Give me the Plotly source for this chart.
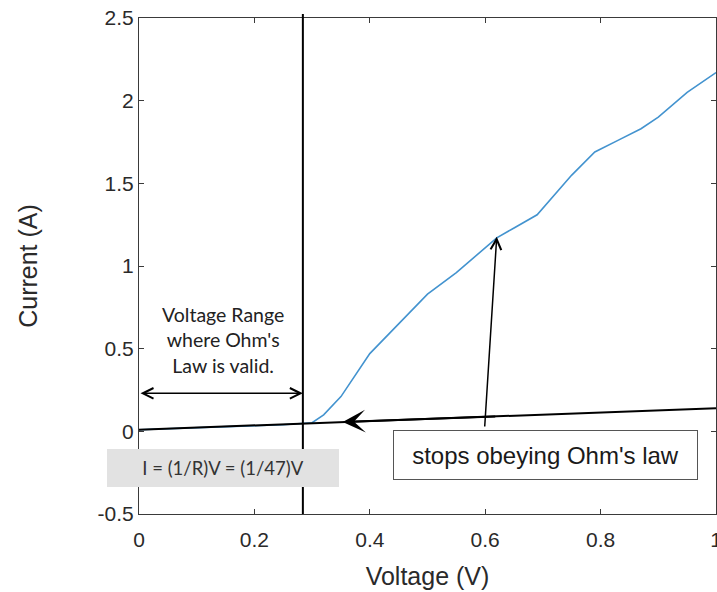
import plotly.graph_objects as go

# ---- data ----
voltage = [0.0, 0.05, 0.10, 0.15, 0.20, 0.25, 0.30, 0.32, 0.35, 0.40, 0.45, 0.50,
           0.55, 0.60, 0.62, 0.65, 0.69, 0.75, 0.79, 0.83, 0.87, 0.90, 0.95, 1.0]
current = [0.010, 0.016, 0.022, 0.028, 0.034, 0.040, 0.052, 0.10, 0.21, 0.47, 0.65, 0.83,
           0.96, 1.11, 1.17, 1.23, 1.31, 1.55, 1.69, 1.76, 1.83, 1.90, 2.05, 2.17]

x_ticks = [0, 0.2, 0.4, 0.6, 0.8, 1]
x_tick_labels = ["0", "0.2", "0.4", "0.6", "0.8", "1"]
y_ticks = [-0.5, 0, 0.5, 1, 1.5, 2, 2.5]
y_tick_labels = ["-0.5", "0", "0.5", "1", "1.5", "2", "2.5"]

# annotation geometry (data units)
ohm_line_v = [0.0, 1.0]
ohm_line_i = [0.010, 0.140]
ohm_limit_v = 0.284
range_arrow_i = 0.23
stop_arrow_tip = (0.353, 0.056)
up_arrow_tail = (0.599, 0.02)
up_arrow_tip = (0.620, 1.177)

X_RANGE = [0, 1]
Y_RANGE = [-0.5, 2.5]


def py(i):
    """data current -> paper y"""
    return (i - Y_RANGE[0]) / (Y_RANGE[1] - Y_RANGE[0])


fig = go.Figure()
fig.add_trace(go.Scatter(x=voltage, y=current, mode="lines",
                         line=dict(color="#4393cf", width=1.6),
                         showlegend=False, hoverinfo="skip"))

axis_common = dict(
    showgrid=False, zeroline=False, showline=True, linecolor="#3a3a3a", linewidth=1,
    mirror="ticks", ticks="inside", ticklen=5, tickcolor="#3a3a3a", tickwidth=1,
    tickfont=dict(family="Liberation Sans, Arial", size=21, color="#2a2a2a"),
    ticklabeloverflow="allow",
)

fig.update_xaxes(range=X_RANGE, tickvals=x_ticks, ticktext=x_tick_labels,
                 ticklabelstandoff=7,
                 title=dict(text="Voltage (V)", standoff=17,
                            font=dict(family="Liberation Sans, Arial", size=25, color="#2a2a2a")),
                 **axis_common)
fig.update_yaxes(range=Y_RANGE, tickvals=y_ticks, ticktext=y_tick_labels,
                 title=dict(text="Current (A)", standoff=52,
                            font=dict(family="Liberation Sans, Arial", size=25, color="#2a2a2a")),
                 **axis_common)

shapes = [
    dict(type="line", xref="paper", yref="paper",
         x0=ohm_line_v[0], x1=ohm_line_v[1], y0=py(ohm_line_i[0]), y1=py(ohm_line_i[1]),
         line=dict(color="black", width=2), layer="above"),
    dict(type="line", xref="paper", yref="paper",
         x0=ohm_limit_v, x1=ohm_limit_v, y0=0, y1=1.008,
         line=dict(color="black", width=2), layer="above"),
]

annotations = [
    dict(x=ohm_limit_v, y=range_arrow_i, ax=0.0, ay=range_arrow_i,
         xref="x", yref="y", axref="x", ayref="y", text="", showarrow=True,
         arrowhead=5, startarrowhead=5, arrowside="end+start",
         arrowsize=1.4, startarrowsize=1.4, arrowwidth=1.5, arrowcolor="black"),
    dict(x=stop_arrow_tip[0], y=stop_arrow_tip[1], ax=0.62, ay=ohm_line_i[0] + 0.13 * 0.62,
         xref="x", yref="y", axref="x", ayref="y", text="", showarrow=True,
         arrowhead=3, arrowsize=1.9, arrowwidth=2, arrowcolor="black"),
    dict(x=up_arrow_tip[0], y=up_arrow_tip[1], ax=up_arrow_tail[0], ay=up_arrow_tail[1],
         xref="x", yref="y", axref="x", ayref="y", text="", showarrow=True,
         arrowhead=5, arrowsize=1.4, arrowwidth=1.5, arrowcolor="black"),
    dict(x=0.145, y=0.552, xref="x", yref="y", showarrow=False,
         text="Voltage Range<br>where Ohm's<br>Law is valid.",
         font=dict(family="Lato, Open Sans", size=19.5, color="#222"), align="center"),
    dict(x=(223 - 139) / 577, y=(514 - 468) / 496, xref="paper", yref="paper", showarrow=False,
         text="I = (1/R)V = (1/47)V", width=232, height=38, bgcolor="#e2e2e2",
         borderpad=0, borderwidth=0,
         font=dict(family="Lato, Open Sans", size=18.5, color="#333"), align="center",
         xanchor="center", yanchor="middle"),
    dict(x=(545.5 - 139) / 577, y=(514 - 455) / 496, xref="paper", yref="paper", showarrow=False,
         text="stops obeying Ohm's law", width=303, height=48, bgcolor="white",
         bordercolor="#555", borderwidth=1, borderpad=0,
         font=dict(family="Liberation Sans, Arial", size=24, color="#1a1a1a"), align="center",
         xanchor="center", yanchor="middle"),
]

fig.update_layout(
    width=717, height=592,
    margin=dict(l=139, r=1, t=18, b=78, autoexpand=False),
    paper_bgcolor="white", plot_bgcolor="white",
    shapes=shapes, annotations=annotations,
)

fig.write_html("out.html", config={"displayModeBar": False},
               post_script="document.body.style.margin='0';document.body.style.overflow='hidden';")
